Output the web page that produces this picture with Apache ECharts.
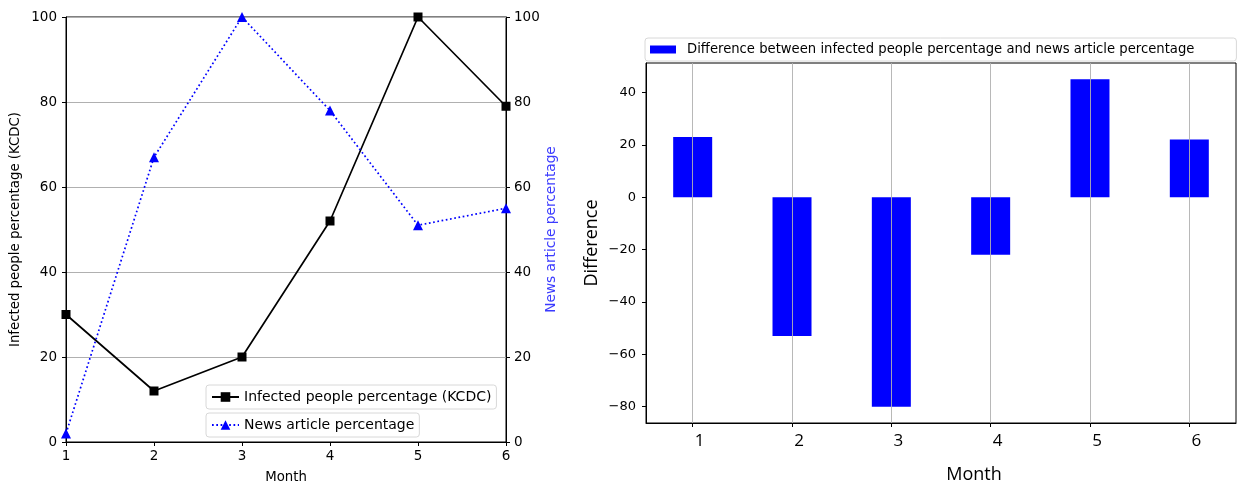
<!DOCTYPE html>
<html>
<head>
<meta charset="utf-8">
<script src="https://cdn.jsdelivr.net/npm/echarts@6/dist/echarts.min.js"></script>
<style>html,body{margin:0;padding:0;background:#fff;}#chart{width:1238px;height:489px;}</style>
</head>
<body>
<div id="chart"></div>
<script>
const months = [1, 2, 3, 4, 5, 6];
const infected = [30, 12, 20, 52, 100, 79];
const news = [2, 67, 100, 78, 51, 55];
const difference = [23, -53, -80, -22, 45, 22];
const diffTicks = [-80, -60, -40, -20, 0, 20, 40];

const infectedName = 'Infected people percentage (KCDC)';
const newsName = 'News article percentage';
const diffName = 'Difference between infected people percentage and news article percentage';

const small = 'DejaVu Sans';
const big = 'Open Sans';
const grey = '#b0b0b0';
const minus = v => String(v).replace('-', '\u2212');

const chart = echarts.init(document.getElementById('chart'), null, {renderer: 'canvas'});

const axisBase = {
  axisLine: {show: true, onZero: false, lineStyle: {color: '#000', width: 1}},
  axisTick: {show: true, inside: false, length: 4, lineStyle: {color: '#000'}},
  axisLabel: {color: '#000', fontFamily: small, fontSize: 13.5},
  nameTextStyle: {color: '#000', fontFamily: small, fontSize: 13.3}
};

const legendBase = {
  orient: 'vertical', itemWidth: 27, itemHeight: 12,
  borderColor: '#d8d8d8', borderWidth: 1, borderRadius: 3, backgroundColor: '#fff'
};

chart.setOption({
  animation: false,
  backgroundColor: '#fff',
  grid: [
    {left: 66, top: 17, width: 440, height: 426, show: true, borderColor: '#000', borderWidth: 1, backgroundColor: 'transparent'},
    {left: 646, top: 63, width: 590, height: 362, show: true, borderColor: '#000', borderWidth: 1, backgroundColor: 'transparent'}
  ],
  legend: [
    Object.assign({}, legendBase, {
      data: [infectedName], left: 206, top: 385, padding: [5, 5, 5, 5],
      textStyle: {fontFamily: small, fontSize: 14, color: '#000'}
    }),
    Object.assign({}, legendBase, {
      data: [newsName], left: 206, top: 413, padding: [5, 5, 5, 5],
      textStyle: {fontFamily: small, fontSize: 14, color: '#000'}
    }),
    Object.assign({}, legendBase, {
      data: [{name: diffName, icon: 'rect'}], left: 645, top: 38, padding: [5, 42, 5, 5],
      itemWidth: 26, itemHeight: 8,
      textStyle: {fontFamily: small, fontSize: 13.2, color: '#000', padding: [0, 0, 0, 6]}
    })
  ],
  xAxis: [
    Object.assign({}, axisBase, {
      type: 'value', gridIndex: 0, min: 1, max: 6, interval: 1,
      splitLine: {show: false},
      axisLabel: Object.assign({}, axisBase.axisLabel, {margin: 7}),
      name: 'Month', nameLocation: 'middle', nameGap: 29
    }),
    Object.assign({}, axisBase, {
      type: 'value', gridIndex: 1, min: 0.53, max: 6.47,
      splitLine: {show: false},
      axisTick: Object.assign({}, axisBase.axisTick, {customValues: months}),
      axisLabel: {color: '#000', fontFamily: big, fontSize: 17, margin: 10, customValues: months, padding: [0, 0, 0, 14]},
      name: 'Month', nameLocation: 'middle', nameGap: 43,
      nameTextStyle: {color: '#000', fontFamily: big, fontSize: 18, padding: [0, 0, 0, 66]}
    })
  ],
  yAxis: [
    Object.assign({}, axisBase, {
      type: 'value', gridIndex: 0, position: 'left', min: 0, max: 100, interval: 20,
      splitLine: {show: true, lineStyle: {color: grey, width: 1}},
      axisLabel: Object.assign({}, axisBase.axisLabel, {margin: 9}),
      name: infectedName, nameLocation: 'middle', nameGap: 44, nameRotate: 90
    }),
    Object.assign({}, axisBase, {
      type: 'value', gridIndex: 0, position: 'right', min: 0, max: 100, interval: 20,
      splitLine: {show: false},
      axisLabel: Object.assign({}, axisBase.axisLabel, {margin: 8}),
      name: newsName, nameLocation: 'middle', nameGap: 38, nameRotate: 90,
      nameTextStyle: {color: '#3b3bff', fontFamily: small, fontSize: 13.7}
    }),
    Object.assign({}, axisBase, {
      type: 'value', gridIndex: 1, position: 'left', min: -86.25, max: 51.25,
      splitLine: {show: false},
      axisTick: Object.assign({}, axisBase.axisTick, {customValues: diffTicks}),
      axisLabel: Object.assign({}, axisBase.axisLabel, {fontSize: 13, margin: 10, customValues: diffTicks, formatter: minus}),
      name: 'Difference', nameLocation: 'middle', nameGap: 45, nameRotate: 90,
      nameTextStyle: {color: '#000', fontFamily: big, fontSize: 18}
    })
  ],
  series: [
    {
      name: infectedName, type: 'line', xAxisIndex: 0, yAxisIndex: 0,
      data: months.map((m, i) => [m, infected[i]]),
      color: '#000',
      lineStyle: {color: '#000', width: 1.7},
      itemStyle: {color: '#000'},
      symbol: 'rect', symbolSize: 9, showAllSymbol: true, clip: false, z: 3
    },
    {
      name: newsName, type: 'line', xAxisIndex: 0, yAxisIndex: 1,
      data: months.map((m, i) => [m, news[i]]),
      color: '#0000ff',
      lineStyle: {color: '#0000ff', width: 1.7, type: [1.7, 2.6]},
      itemStyle: {color: '#0000ff'},
      symbol: 'triangle', symbolSize: 10, showAllSymbol: true, clip: false, z: 3
    },
    {
      name: diffName, type: 'bar', xAxisIndex: 1, yAxisIndex: 2,
      data: months.map((m, i) => [m, difference[i]]),
      barWidth: 39,
      itemStyle: {color: '#0000ff'},
      z: 2,
      markLine: {
        silent: true, symbol: ['none', 'none'], label: {show: false},
        lineStyle: {color: grey, width: 1, type: 'solid', opacity: 0.9},
        emphasis: {disabled: true},
        z: 10,
        data: months.map(m => ({xAxis: m}))
      }
    }
  ]
});
</script>
</body>
</html>
